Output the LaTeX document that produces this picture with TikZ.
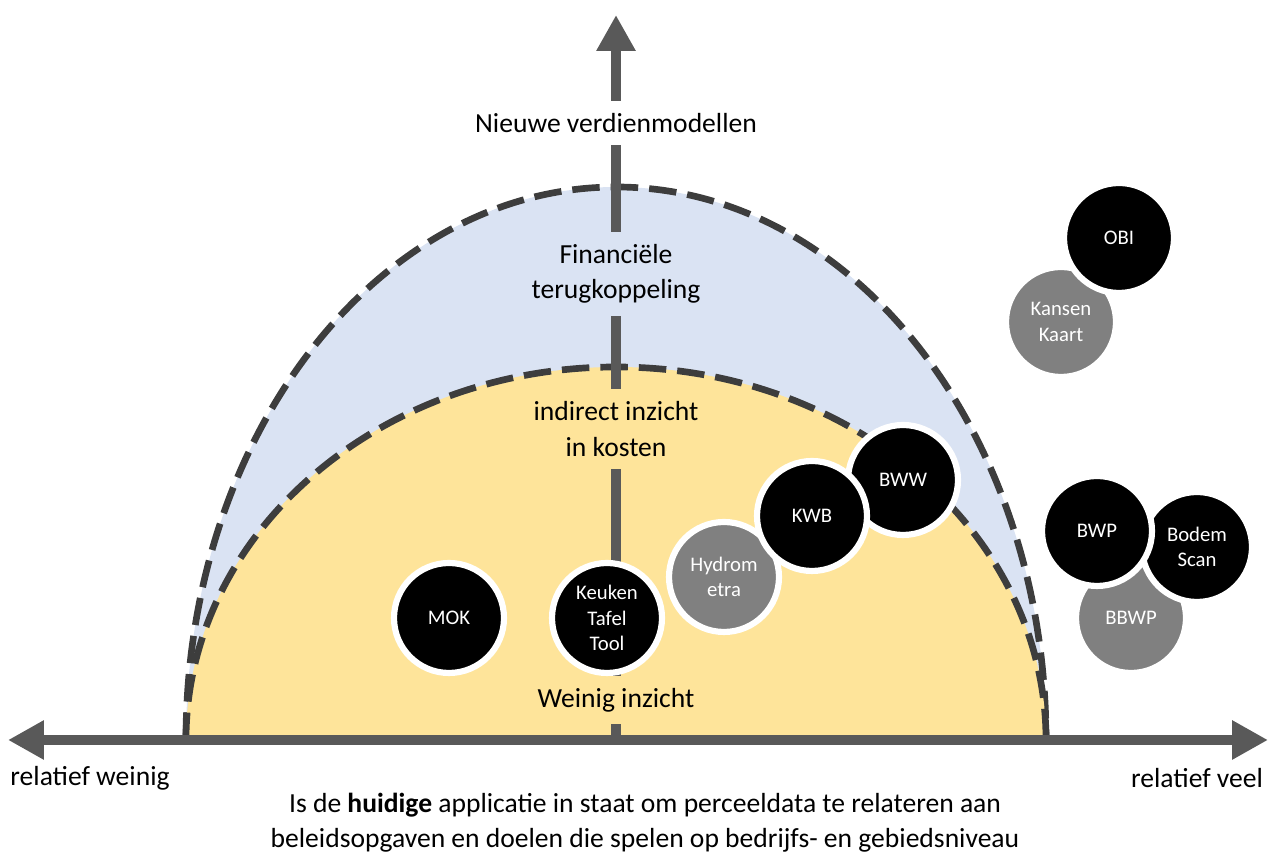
\documentclass[tikz,border=0pt]{standalone}
\usepackage{fontspec}
\setmainfont{Carlito}
\usetikzlibrary{arrows.meta, positioning}
\definecolor{axisgray}{HTML}{595959}
\definecolor{dashgray}{HTML}{3D3D3D}
\definecolor{zoneblue}{HTML}{DAE3F3}
\definecolor{zoneyellow}{HTML}{FEE49A}
\definecolor{toolgray}{HTML}{808080}
\newcommand{\axisfont}{\fontsize{15.7}{20}\selectfont}
\newcommand{\toolfont}{\fontsize{11.8}{14.5}\selectfont}

\begin{document}
\begin{tikzpicture}[x=0.02cm, y=0.02cm, every node/.style={align=center}]
  \tikzset{zone/.style={draw=dashgray, line width=3.8pt, dash pattern=on 0.55cm off 0.22cm},
    axisline/.style={draw=axisgray, line width=5.7pt},
    zonetext/.style={font=\axisfont, inner xsep=4pt, inner ysep=7pt},
    tool/.style={circle, draw=white, line width=3.5pt, minimum size=2.2cm, inner sep=0pt, fill=black, text=white, font=\toolfont},
    toolgrey/.style={tool, fill=toolgray}}
  \useasboundingbox (0,0) rectangle (1274,857);
  % zones
  \draw[zone, fill=zoneblue] (186,117) arc[start angle=180, end angle=0, x radius=430, y radius=553];
  \draw[zone, fill=zoneyellow] (186,117) arc[start angle=180, end angle=0, x radius=430, y radius=373];
  % axes
  \coordinate (O) at (616,117);
  \coordinate (west) at (8,117);
  \coordinate (east) at (1268,117);
  \coordinate (top) at (616,842);
  \draw[axisline, {Triangle[length=0.72cm, width=0.74cm]}-{Triangle[length=0.72cm, width=0.74cm]}] (west) -- (east);
  \draw[axisline, -{Triangle[length=0.72cm, width=0.74cm]}] (O) -- (top);
  \node[zonetext, fill=white] (new) at (616,734) {Nieuwe verdienmodellen};
  \node[zonetext, fill=zoneblue] (fin) at (616,583) {Financiële\\terugkoppeling};
  \node[zonetext, fill=zoneyellow] (ind) at (616,428) {indirect inzicht\\in kosten};
  \node[zonetext, fill=zoneyellow] (few) at (616,157) {Weinig inzicht};
  \node[font=\axisfont] (low) at (90,79) {relatief weinig};
  \node[font=\axisfont] (high) at (1197,79) {relatief veel};
  \node[font=\axisfont] (question) at (645,34) {Is de \textbf{huidige} applicatie in staat om perceeldata te relateren aan\\beleidsopgaven en doelen die spelen op bedrijfs- en gebiedsniveau};
  % tools
  \node[tool] (mok) at (449,239) {MOK};
  \node[tool] (ktt) at (607,239) {Keuken\\Tafel\\Tool};
  \node[toolgrey] (hydro) at (724,280) {Hydrom\\etra};
  \node[tool] (bww) at (903,377) {BWW};
  \node[tool] (kwb) at (812,341) {KWB};
  \node[toolgrey] (kansen) at (1061,535) {Kansen\\Kaart};
  \node[tool] (obi) at (1119,619) {OBI};
  \node[toolgrey] (bbwp) at (1131,239) {BBWP};
  \node[tool] (bodem) at (1197,310) {Bodem\\Scan};
  \node[tool] (bwp) at (1097,326) {BWP};
\end{tikzpicture}
\end{document}
